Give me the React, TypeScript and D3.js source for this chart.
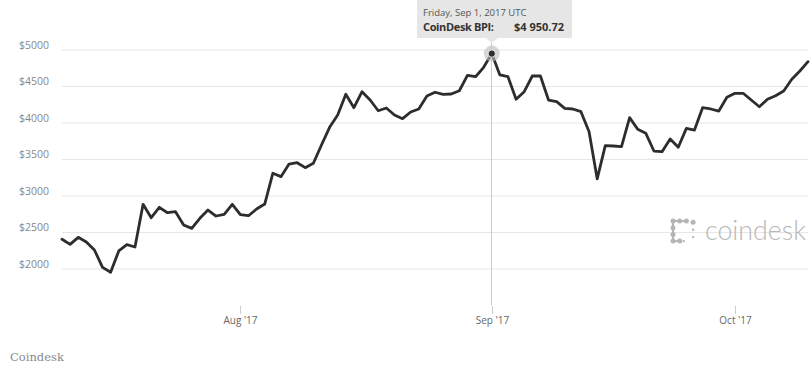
import React from "react";
import * as d3 from "d3";

const startDate = "2017-07-10";
const prices: number[] = [
  2407, 2338, 2434, 2370, 2260, 2023, 1955, 2247, 2333, 2301, 2886, 2703, 2845, 2771, 2785, 2603, 2557, 2694, 2808, 2726, 2749, 2886,
  2745, 2730, 2822, 2890, 3311, 3265, 3438, 3456, 3388, 3448, 3699, 3941, 4110, 4393, 4210, 4429, 4315, 4168, 4205, 4110, 4059, 4151, 4192, 4370, 4421, 4393, 4397, 4442, 4653, 4634, 4763,
  4950.72, 4658, 4634, 4325, 4429, 4644, 4644, 4315, 4292, 4201, 4192, 4155, 3881, 3235, 3690, 3685, 3676, 4073, 3914, 3859, 3616, 3607, 3781, 3667, 3927, 3904, 4210, 4192, 4164, 4352,
  4407, 4407, 4315, 4223, 4325, 4374, 4438, 4599, 4712, 4840,
];
const yTicks: number[] = [2000, 2500, 3000, 3500, 4000, 4500, 5000];
const xTickDates: string[] = ["2017-08-01", "2017-09-01", "2017-10-01"];
const xTickLabels: string[] = ["Aug '17", "Sep '17", "Oct '17"];
const highlightDate = "2017-09-01";
const tooltipTitle = "Friday, Sep 1, 2017 UTC";
const tooltipLabel = "CoinDesk BPI:";
const tooltipValue = "$4 950.72";
const sourceText = "Coindesk";
const watermark = "coindesk";

const W = 812;
const H = 367;

export default function App() {
  const t0 = new Date(startDate + "T00:00:00Z");
  const data = prices.map((v, i) => ({ date: d3.utcDay.offset(t0, i), value: v }));
  const x = d3
    .scaleUtc()
    .domain([data[0].date, data[data.length - 1].date])
    .range([62, 808]);
  const y = d3.scaleLinear().domain([2000, 5000]).range([269, 50]);
  const line = d3
    .line<{ date: Date; value: number }>()
    .x((d) => x(d.date))
    .y((d) => y(d.value));

  const hDate = new Date(highlightDate + "T00:00:00Z");
  const hPoint = data.find((d) => +d.date === +hDate)!;
  const hx = x(hPoint.date);
  const hy = y(hPoint.value);

  const font = "'Open Sans', 'DejaVu Sans', sans-serif";

  const ix = 673;
  const iy = 221;
  const s = 6.7;
  const iconDots: [number, number][] = [
    [0, 0], [1, 0], [2, 0], [3, 0.2],
    [0, 1], [0, 2], [0, 3], [1, 3],
    [3, 1.3], [3, 2.4], [1.6, 3],
  ];

  return (
    <svg
      width={W}
      height={H}
      style={{ position: "absolute", left: 0, top: 0, background: "#fff" }}
    >
      {yTicks.map((t) => (
        <line key={t} x1={62} x2={808} y1={y(t)} y2={y(t)} stroke="#e6e6e6" strokeWidth={1} />
      ))}
      {yTicks.map((t) => (
        <text
          key={"l" + t}
          x={49}
          y={y(t) - 1.5}
          textAnchor="end"
          fontFamily={font}
          fontSize={10.5}
          fill="#888888"
        >
          {"$" + t}
        </text>
      ))}

      <g fill="#b5b5b5" stroke="#b5b5b5">
        <line x1={ix} y1={iy} x2={ix + 2 * s} y2={iy} strokeWidth={2} />
        <line x1={ix} y1={iy} x2={ix} y2={iy + 3 * s} strokeWidth={2} />
        <line x1={ix} y1={iy + 3 * s} x2={ix + s} y2={iy + 3 * s} strokeWidth={2} />
        {iconDots.map(([a, b], i) => (
          <circle key={i} cx={ix + a * s} cy={iy + b * s} r={i >= 8 ? 1.2 : 2.5} stroke="none" />
        ))}
      </g>
      <text
        x={705}
        y={239.5}
        fontFamily="Lato, 'Open Sans', sans-serif"
        fontSize={27}
        fontWeight={300}
        fill="#b8b8b8"
        textLength={101}
        lengthAdjust="spacingAndGlyphs"
      >
        {watermark}
      </text>

      {xTickDates.map((d, i) => {
        const xx = Math.round(x(new Date(d + "T00:00:00Z"))) + 0.5;
        return (
          <g key={d}>
            <line x1={xx} x2={xx} y1={306} y2={314} stroke="#cccccc" strokeWidth={1} />
            <text
              x={xx}
              y={323.5}
              textAnchor="middle"
              fontFamily={font}
              fontSize={10}
              fill="#666"
            >
              {xTickLabels[i]}
            </text>
          </g>
        );
      })}

      <line
        x1={Math.round(hx) - 0.5}
        x2={Math.round(hx) - 0.5}
        y1={38}
        y2={305}
        stroke="#cccccc"
        strokeWidth={1}
      />

      <path
        d={line(data) || ""}
        fill="none"
        stroke="#2d2d2d"
        strokeWidth={2.8}
        strokeLinejoin="round"
        strokeLinecap="round"
      />

      <circle cx={hx} cy={hy} r={8} fill="#bdbdbd" opacity={0.6} />
      <circle cx={hx} cy={hy} r={3.6} fill="#2d2d2d" stroke="#fff" strokeWidth={0.8} />

      <g>
        <rect x={417} y={-4} width={155} height={42} fill="#e6e6e6" />
        <path d={`M${hx - 6},38 L${hx},43 L${hx + 6},38 Z`} fill="#e6e6e6" />
        <text x={423} y={16} fontFamily={font} fontSize={9.5} fill="#555">
          {tooltipTitle}
        </text>
        <text
          x={423}
          y={30.5}
          fontFamily={font}
          fontSize={11}
          fontWeight={700}
          fill="#333"
          textLength={71}
          lengthAdjust="spacing"
        >
          {tooltipLabel}
        </text>
        <text
          x={564}
          y={30.5}
          textAnchor="end"
          fontFamily={font}
          fontSize={11}
          fontWeight={700}
          fill="#333"
        >
          {tooltipValue}
        </text>
      </g>

      <text
        x={10}
        y={361}
        fontFamily="'DejaVu Serif', 'Liberation Serif', serif"
        fontSize={11.5}
        fill="#8a8a8a"
      >
        {sourceText}
      </text>
    </svg>
  );
}
